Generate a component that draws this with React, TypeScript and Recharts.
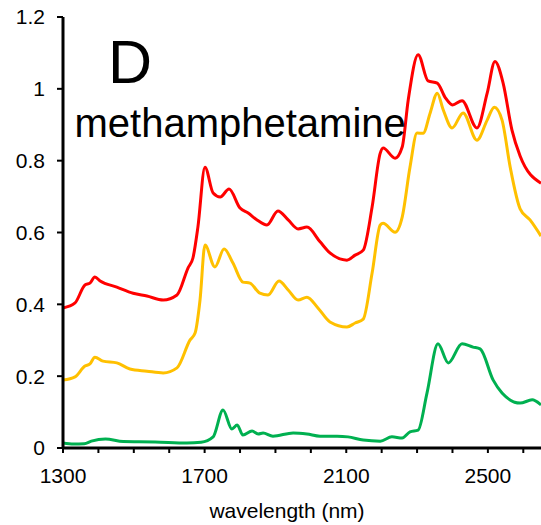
import React from 'react';
import { LineChart, Line, XAxis, YAxis } from 'recharts';

const FONT = '"Liberation Sans", Arial, sans-serif';

const xTicks = [1300, 1400, 1500, 1600, 1700, 1800, 1900, 2000, 2100, 2200, 2300, 2400, 2500, 2600];
const xTickLabels = [1300, 1700, 2100, 2500];
const yTicks = [0, 0.2, 0.4, 0.6, 0.8, 1, 1.2];

const redNm = [1300, 1334, 1362, 1376, 1390, 1405, 1452, 1498, 1537, 1583, 1622, 1653, 1667, 1681, 1701, 1724, 1744, 1769, 1800, 1823, 1848, 1876, 1907, 1936, 1964, 1989, 2026, 2054, 2102, 2125, 2148, 2173, 2196, 2204, 2238, 2258, 2275, 2303, 2331, 2357, 2380, 2400, 2427, 2469, 2498, 2520, 2543, 2568, 2591, 2650];
const redAbs = [0.39, 0.404, 0.454, 0.459, 0.476, 0.465, 0.448, 0.431, 0.423, 0.412, 0.426, 0.501, 0.529, 0.615, 0.782, 0.71, 0.699, 0.721, 0.668, 0.654, 0.635, 0.621, 0.66, 0.635, 0.61, 0.615, 0.574, 0.543, 0.523, 0.537, 0.551, 0.671, 0.821, 0.835, 0.807, 0.838, 0.969, 1.095, 1.022, 1.016, 0.975, 0.955, 0.967, 0.891, 0.988, 1.076, 1.016, 0.885, 0.813, 0.737];

const yellowNm = [1300, 1334, 1362, 1376, 1390, 1413, 1452, 1489, 1537, 1583, 1622, 1659, 1673, 1687, 1701, 1729, 1755, 1780, 1808, 1828, 1856, 1879, 1910, 1936, 1964, 1989, 2020, 2054, 2102, 2125, 2148, 2173, 2196, 2204, 2238, 2258, 2280, 2300, 2317, 2337, 2357, 2374, 2399, 2430, 2469, 2498, 2518, 2540, 2563, 2591, 2619, 2650];
const yellowAbs = [0.189, 0.198, 0.228, 0.234, 0.253, 0.242, 0.237, 0.22, 0.214, 0.209, 0.223, 0.301, 0.32, 0.412, 0.565, 0.504, 0.554, 0.515, 0.462, 0.459, 0.431, 0.426, 0.465, 0.44, 0.412, 0.42, 0.39, 0.351, 0.337, 0.348, 0.359, 0.487, 0.621, 0.626, 0.601, 0.643, 0.782, 0.877, 0.876, 0.933, 0.988, 0.941, 0.891, 0.933, 0.857, 0.913, 0.949, 0.913, 0.782, 0.666, 0.635, 0.59];

const greenNm = [1300, 1330, 1360, 1380, 1420, 1470, 1560, 1650, 1690, 1724, 1752, 1777, 1792, 1808, 1834, 1851, 1865, 1893, 1950, 1989, 2026, 2074, 2105, 2148, 2196, 2229, 2258, 2280, 2303, 2328, 2359, 2388, 2427, 2458, 2478, 2515, 2540, 2591, 2625, 2650];
const greenAbs = [0.014, 0.011, 0.012, 0.019, 0.025, 0.018, 0.017, 0.014, 0.016, 0.031, 0.106, 0.053, 0.064, 0.036, 0.047, 0.039, 0.042, 0.033, 0.042, 0.039, 0.033, 0.033, 0.031, 0.022, 0.019, 0.031, 0.028, 0.045, 0.05, 0.153, 0.29, 0.237, 0.29, 0.281, 0.276, 0.189, 0.153, 0.125, 0.134, 0.12];

const toData = (nm: number[], v: number[]) => nm.map((x, i) => ({ nm: x, v: v[i] }));
const redData = toData(redNm, redAbs);
const yellowData = toData(yellowNm, yellowAbs);
const greenData = toData(greenNm, greenAbs);

const W = 541;
const H = 525;

export default function App() {
  return (
    <div style={{ position: 'fixed', left: 0, top: 0, width: W, height: H, background: '#fff' }}>
      <LineChart width={W} height={H} margin={{ top: 17, right: 0, bottom: 0, left: 0 }}>
        <XAxis
          type="number"
          dataKey="nm"
          domain={[1300, 2650]}
          allowDataOverflow
          ticks={xTicks}
          interval={0}
          tickFormatter={(v: number) => (xTickLabels.includes(v) ? String(v) : '')}
          axisLine={{ stroke: '#000', strokeWidth: 3 }}
          tickLine={{ stroke: '#000', strokeWidth: 2 }}
          tickSize={5}
          tickMargin={15}
          tick={{ fill: '#000', fontSize: 21, fontFamily: FONT }}
          height={77}
          label={{ value: 'wavelength (nm)', position: 'insideBottom', offset: 7, dx: -15, fill: '#000', fontSize: 21, fontFamily: FONT }}
        />
        <YAxis
          type="number"
          domain={[0, 1.2]}
          ticks={yTicks}
          interval={0}
          tickFormatter={(v: number) => String(v)}
          axisLine={{ stroke: '#000', strokeWidth: 3 }}
          tickLine={{ stroke: '#000', strokeWidth: 2 }}
          tickSize={6}
          tickMargin={12}
          tick={{ fill: '#000', fontSize: 21, fontFamily: FONT }}
          width={63}
        />
        <Line data={redData} dataKey="v" type="monotone" stroke="#FF0000" strokeWidth={3} dot={false} isAnimationActive={false} />
        <Line data={yellowData} dataKey="v" type="monotone" stroke="#FFC000" strokeWidth={3} dot={false} isAnimationActive={false} />
        <Line data={greenData} dataKey="v" type="monotone" stroke="#00B050" strokeWidth={3} dot={false} isAnimationActive={false} />
      </LineChart>
      <svg width={W} height={H} style={{ position: 'absolute', left: 0, top: 0, pointerEvents: 'none' }}>
        <text x={108} y={83} fontSize={61} fontFamily={FONT} fill="#000">D</text>
        <text x={74.5} y={137} fontSize={40} fontFamily={FONT} fill="#000">methamphetamine</text>
      </svg>
    </div>
  );
}
